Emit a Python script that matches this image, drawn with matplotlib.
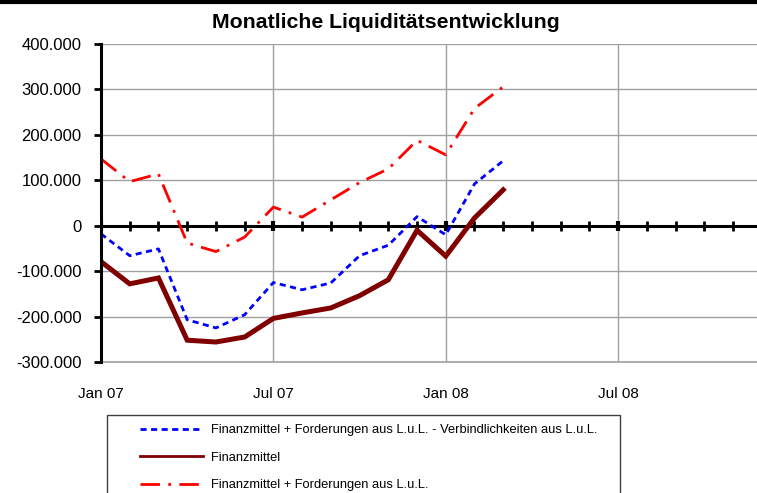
import numpy as np
import matplotlib.pyplot as plt
from matplotlib.ticker import FuncFormatter
from matplotlib.patches import Rectangle
from matplotlib.lines import Line2D

plt.rcParams['font.family'] = ['Liberation Sans', 'DejaVu Sans']

# monthly values, Jan 07 .. Mar 08
months = np.arange(15)
finanz_ford_verb = [-18000, -66000, -51000, -207000, -225000, -196000, -125000, -141000,
                    -126000, -66000, -43000, 20000, -20000, 92000, 143000]
finanzmittel = [-79000, -128000, -115000, -252000, -256000, -245000, -204000, -192000,
                -181000, -154000, -119000, -10000, -67000, 17000, 79000]
finanz_ford = [147000, 97000, 114000, -38000, -57000, -25000, 41000, 19000,
               57000, 95000, 125000, 188000, 156000, 258000, 306000]

labels = ['Finanzmittel + Forderungen aus L.u.L. - Verbindlichkeiten aus L.u.L.',
          'Finanzmittel',
          'Finanzmittel + Forderungen aus L.u.L.']
xtick_pos = [0, 6, 12, 18]
xtick_labels = ['Jan 07', 'Jul 07', 'Jan 08', 'Jul 08']

fig = plt.figure(figsize=(7.57, 4.93), dpi=100)
W, H = 757, 493
# axes: left edge x=101, top y=44, bottom y=362, 24 months at 28.73 px
ax = fig.add_axes([101 / W, (H - 362) / H, 24 * 28.73 / W, 318 / H])

ax.plot(months, finanz_ford_verb, color='#0000FF', lw=2, dashes=(2.2, 1.6), zorder=4)
ax.plot(months, finanzmittel, color='#800000', lw=3.6, solid_joinstyle='miter', zorder=5)
ax.plot(months, finanz_ford, color='#FF0000', lw=2, dashes=(7, 3, 1, 3), zorder=3)

ax.set_xlim(0, 24)
ax.set_ylim(-300000, 400000)
ax.set_yticks(np.arange(-300000, 400001, 100000))
ax.yaxis.set_major_formatter(FuncFormatter(lambda v, p: '0' if v == 0 else f'{v:,.0f}'.replace(',', '.')))
ax.set_xticks(xtick_pos)
ax.set_xticklabels(xtick_labels)
ax.tick_params(axis='x', length=0, pad=18, labelsize=11)
ax.tick_params(axis='y', length=5, width=2, direction='out', labelsize=12, pad=9)

ax.grid(True, color='#A0A0A0', lw=1)
ax.axhline(-300000, color='#A0A0A0', lw=1.2, clip_on=False, zorder=1)
for s in ['top', 'right', 'bottom']:
    ax.spines[s].set_visible(False)
ax.spines['left'].set_linewidth(2.2)
ax.spines['left'].set_zorder(6)

# zero line with month ticks
ax.axhline(0, color='black', lw=2.2, zorder=2)
tick_months = np.arange(0, 24)
minor = [m for m in tick_months if m % 6 != 0]
major = [m for m in tick_months if m % 6 == 0]
ax.plot(minor, np.zeros(len(minor)), ls='none', marker='|', ms=6.5, mew=2, color='black', zorder=2)
ax.plot(major, np.zeros(len(major)), ls='none', marker='|', ms=7.5, mew=3, color='black', zorder=2)

fig.text(386 / W, 1 - 23 / H, 'Monatliche Liquiditätsentwicklung', ha='center', va='center',
         fontsize=15.3, fontweight='bold')

# top border
fig.add_artist(Line2D([0, 1], [1 - 1.5 / H, 1 - 1.5 / H], color='black', lw=3))

# legend frame and entries
fig.add_artist(Rectangle((107 / W, -0.05), (620 - 107) / W, 0.05 + (H - 415) / H,
                         transform=fig.transFigure, fill=False, ec='#404040', lw=1))
handles = [Line2D([], [], color='#0000FF', lw=2, dashes=(2.2, 1.6)),
           Line2D([], [], color='#800000', lw=2),
           Line2D([], [], color='#FF0000', lw=2, dashes=(7, 3, 1, 3))]
fig.legend(handles, labels, loc='upper left', bbox_to_anchor=(140 / W, 1 - 424 / H),
           frameon=False, fontsize=9.3, handlelength=4.9, handletextpad=0.6,
           labelspacing=1.2, borderpad=0, borderaxespad=0)

fig.savefig('out.png', dpi=100)
